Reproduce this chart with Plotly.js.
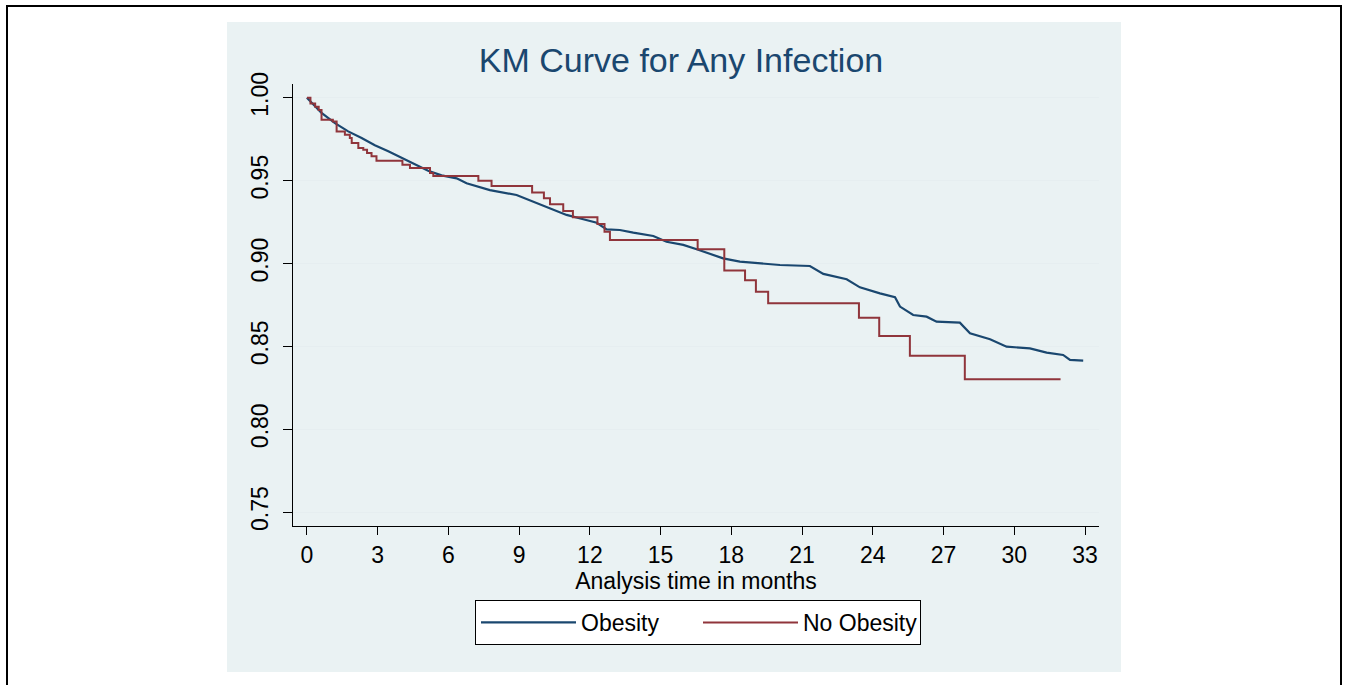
<!DOCTYPE html>
<html>
<head>
<meta charset="utf-8">
<script src="https://cdn.plot.ly/plotly-3.0.1.min.js"></script>
<style>
html,body{margin:0;padding:0;background:#fff;}
#chart{width:1345px;height:685px;}
</style>
</head>
<body>
<div id="chart"></div>
<script>
// Obesity group (KM estimate)
const obesityTime = [0, 0.62, 1.19, 1.75, 2.32, 2.88, 3.45, 4.02, 4.58, 5.14, 5.71, 6.35, 6.77, 7.76, 8.89, 9.6, 10.31, 11.01, 11.72, 12.29, 12.71, 13.27, 13.84, 14.69, 15.25, 15.96, 16.53, 17.09, 17.65, 18.36, 19.21, 20.06, 21.33, 21.9, 22.89, 23.45, 24.30, 24.94, 25.15, 25.71, 26.28, 26.7, 27.69, 28.12, 28.97, 29.67, 30.66, 31.37, 32.07, 32.36, 32.92];
const obesitySurv = [1.0, 0.9908, 0.9847, 0.9797, 0.9757, 0.9713, 0.9677, 0.9636, 0.9596, 0.9560, 0.9532, 0.9514, 0.9484, 0.9443, 0.9413, 0.9373, 0.9333, 0.9293, 0.9267, 0.9246, 0.9206, 0.9202, 0.9186, 0.9166, 0.9131, 0.9112, 0.9086, 0.9057, 0.9031, 0.9011, 0.9001, 0.8991, 0.8985, 0.8937, 0.8905, 0.8856, 0.8820, 0.8796, 0.8740, 0.8689, 0.8679, 0.8649, 0.8643, 0.8579, 0.8543, 0.8498, 0.8488, 0.8462, 0.8448, 0.8418, 0.8414];

// No obesity group (step function)
const noObesityTime = [0, 0.15, 0.35, 0.5, 0.62, 1.1, 1.26, 1.61, 1.82, 1.9, 2.18, 2.39, 2.55, 2.74, 2.95, 4.05, 4.37, 5.22, 5.36, 7.27, 7.83, 9.55, 10.05, 10.31, 10.87, 11.28, 12.32, 12.62, 12.85, 16.57, 17.7, 18.58, 19.04, 19.56, 23.41, 24.27, 25.57, 27.9, 31.96];
const noObesitySurv = [1.0, 0.9966, 0.9946, 0.9926, 0.9867, 0.9857, 0.9797, 0.9777, 0.9757, 0.9727, 0.9697, 0.9686, 0.9666, 0.9647, 0.9620, 0.9596, 0.9576, 0.9546, 0.9528, 0.9499, 0.9467, 0.9429, 0.9393, 0.9357, 0.9317, 0.9279, 0.9238, 0.9192, 0.9142, 0.9086, 0.8957, 0.8899, 0.8830, 0.8760, 0.8673, 0.8563, 0.8444, 0.8302, 0.8302];

const xTicks = [0, 3, 6, 9, 12, 15, 18, 21, 24, 27, 30, 33];
const yTicks = [0.75, 0.80, 0.85, 0.90, 0.95, 1.00];
const seriesNames = ["Obesity", "No Obesity"];
const chartTitle = "KM Curve for Any Infection";
const xTitle = "Analysis time in months";

const L = 293, R = 1099, T = 84, B = 526;
const W = 1345, H = 685;
const pw = R - L, ph = B - T;
const px = v => (v - L) / pw;
const py = v => (B - v) / ph;

const traces = [
  {x: obesityTime, y: obesitySurv, name: seriesNames[0], type: 'scatter', mode: 'lines',
   line: {color: '#1a476f', width: 2.2, shape: 'linear'}},
  {x: noObesityTime, y: noObesitySurv, name: seriesNames[1], type: 'scatter', mode: 'lines',
   line: {color: '#90353b', width: 2, shape: 'hv'}}
];

const layout = {
  width: W, height: H,
  margin: {l: L, r: W - R, t: T, b: H - B, pad: 0},
  paper_bgcolor: '#ffffff',
  plot_bgcolor: '#ffffff',
  showlegend: true,
  title: {text: chartTitle, x: 681 / W, xanchor: 'center', y: 1 - 60 / H, yanchor: 'middle',
          font: {family: 'Liberation Sans, Arial, sans-serif', size: 34, color: '#1a476f'}},
  xaxis: {
    range: [-0.59, 33.59], tickmode: 'array', tickvals: xTicks, ticktext: xTicks.map(String),
    showgrid: false, zeroline: false, showline: true, linecolor: '#000', linewidth: 1,
    ticks: 'outside', ticklen: 8, tickcolor: '#000', tickwidth: 1,
    tickfont: {family: 'Liberation Sans, Arial, sans-serif', size: 23, color: '#000'},
    title: {text: xTitle, standoff: 0, font: {family: 'Liberation Sans, Arial, sans-serif', size: 23, color: '#000'}}
  },
  yaxis: {
    range: [0.7416, 1.0083], tickmode: 'array', tickvals: yTicks, ticktext: yTicks.map(v => v.toFixed(2)),
    showgrid: true, gridcolor: '#e6eef0', gridwidth: 1, zeroline: false,
    showline: true, linecolor: '#000', linewidth: 1,
    ticks: 'outside', ticklen: 9, tickcolor: '#000', tickwidth: 1, tickangle: -90,
    ticklabelstandoff: 6,
    tickfont: {family: 'Liberation Sans, Arial, sans-serif', size: 23, color: '#000'}
  },
  legend: {
    orientation: 'h', x: px(475), y: py(600), xanchor: 'left', yanchor: 'top',
    bgcolor: '#ffffff', bordercolor: '#000', borderwidth: 1,
    font: {family: 'Liberation Sans, Arial, sans-serif', size: 23, color: '#000'},
    itemwidth: 95, entrywidth: 112, tracegroupgap: 0
  },
  shapes: [
    {type: 'rect', xref: 'paper', yref: 'paper', layer: 'below',
     x0: px(227), x1: px(1121), y0: py(672), y1: py(22),
     fillcolor: '#eaf2f3', line: {width: 0}},
    {type: 'rect', xref: 'paper', yref: 'paper', layer: 'above',
     x0: px(7), x1: px(1341), y0: py(700), y1: py(6),
     fillcolor: 'rgba(0,0,0,0)', line: {color: '#000', width: 2}}
  ]
};

Plotly.newPlot('chart', traces, layout, {displayModeBar: false, staticPlot: true});
</script>
</body>
</html>
